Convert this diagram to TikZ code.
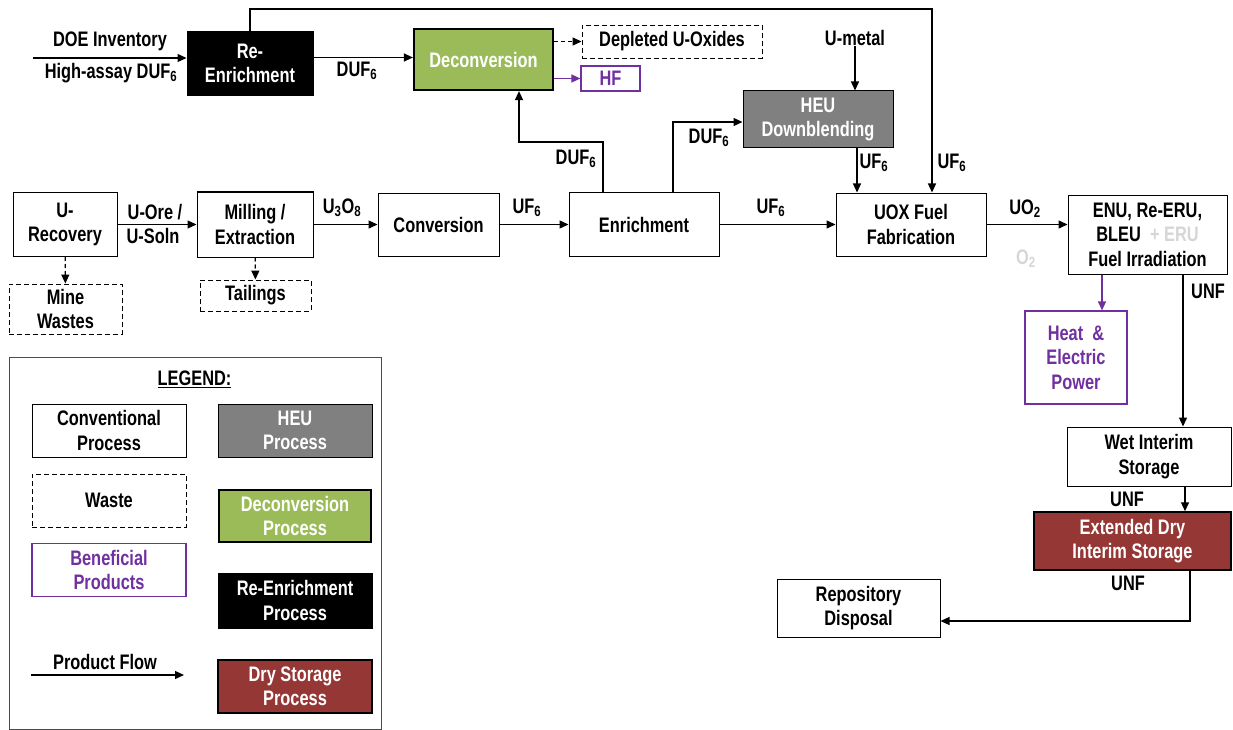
\documentclass[tikz,border=0pt]{standalone}
\usepackage{fontspec}
\setmainfont{Liberation Sans}[FakeStretch=0.78]
\usetikzlibrary{arrows.meta}
\definecolor{deconGreen}{HTML}{9BBB59}
\definecolor{heuGray}{HTML}{808080}
\definecolor{dryRed}{HTML}{953735}
\definecolor{benPurple}{HTML}{7030A0}
\definecolor{ghost}{HTML}{D6D6D6}
\newcommand{\lo}[1]{\textsubscript{#1}}
\begin{document}
\begin{tikzpicture}[x=1pt,y=-1pt,
    every node/.style={font=\fontsize{21}{24.5}\selectfont\bfseries,align=center,inner sep=0pt},
    procbox/.style={draw,line width=1pt,fill=white},
    wastebox/.style={draw,line width=0.9pt,dash pattern=on 5pt off 3pt},
    benefitbox/.style={draw=benPurple,line width=1.2pt,text=benPurple},
    heubox/.style={draw,fill=heuGray,text=white,line width=1pt},
    deconbox/.style={draw,fill=deconGreen,text=white,line width=2.2pt},
    reenrbox/.style={draw,fill=black,text=white,line width=1pt},
    drybox/.style={draw,fill=dryRed,text=white,line width=1.5pt},
    flow/.style={line width=1.3pt,-{Triangle[length=9pt,width=8pt]}},
    wasteflow/.style={flow,dash pattern=on 4pt off 3pt},
    benflow/.style={flow,draw=benPurple,fill=benPurple}]
  \useasboundingbox (0,0) rectangle (1233,730);

  % top row
  \node[reenrbox,minimum width=126pt,minimum height=64pt] (reenr) at (250,63.5) {Re-\\Enrichment};
  \node[deconbox,minimum width=139pt,minimum height=61pt] (decon) at (483.5,59.5) {Deconversion};
  \node[wastebox,minimum width=180pt,minimum height=33pt] (depl) at (672,41.5) {Depleted U-Oxides};
  \node[benefitbox,minimum width=59pt,minimum height=25pt] (hf) at (610.5,78.5) {HF};
  \node[heubox,minimum width=150pt,minimum height=57pt] (heu) at (818,119.5) {HEU\\Downblending};
  \node (umetal) at (855,38) {U-metal};
  \node (doe) at (110,41) {DOE Inventory};
  \node (haduf) at (111,73) {High-assay DUF\lo{6}};
  \coordinate (doein) at (33,58);

  % main row
  \node[procbox,minimum width=104pt,minimum height=64pt] (urec) at (65,224.5) {U-\\Recovery};
  \node[procbox,minimum width=116pt,minimum height=65pt] (mill) at (255,224.5) {Milling /\\Extraction};
  \node[procbox,minimum width=121pt,minimum height=63pt] (conv) at (438.5,224.5) {Conversion};
  \node[procbox,minimum width=150pt,minimum height=64pt] (enr) at (644,224.5) {Enrichment};
  \node[procbox,minimum width=150pt,minimum height=63pt] (uox) at (911,224.5) {UOX Fuel\\Fabrication};
  \node[procbox,minimum width=159pt,minimum height=79pt] (enu) at (1147.5,234.5)
    {ENU, Re-ERU,\\BLEU~~{\color{ghost}+ ERU}\\Fuel Irradiation};
  \node[wastebox,minimum width=113pt,minimum height=50pt] (mine) at (65.5,309) {Mine\\Wastes};
  \node[wastebox,minimum width=111pt,minimum height=31pt] (tail) at (255.5,295.5) {Tailings};

  % back end
  \node[benefitbox,minimum width=102pt,minimum height=93pt] (heat) at (1076,357.5) {Heat~~\&\\Electric\\Power};
  \node[procbox,minimum width=164pt,minimum height=59pt] (wet) at (1149,456.5) {Wet Interim\\Storage};
  \node[drybox,minimum width=197pt,minimum height=58pt] (ext) at (1132.5,541) {Extended Dry\\Interim Storage};
  \node[procbox,minimum width=163pt,minimum height=58pt] (repo) at (858.5,608) {Repository\\Disposal};

  % flow labels
  \node (lbore) at (155,212) {U-Ore /};
  \node (lbsoln) at (153,236) {U-Soln};
  \node (lbuoo) at (342,208) {U\lo{3}O\lo{8}};
  \node (lbufa) at (527,208) {UF\lo{6}};
  \node (lbufb) at (771,208) {UF\lo{6}};
  \node (lbufc) at (874,163) {UF\lo{6}};
  \node (lbufd) at (952,163) {UF\lo{6}};
  \node (lbdufa) at (357,71) {DUF\lo{6}};
  \node (lbdufb) at (576,159) {DUF\lo{6}};
  \node (lbdufc) at (709,138) {DUF\lo{6}};
  \node (lbuo) at (1025,209) {UO\lo{2}};
  \node[text=ghost] (lbox) at (1026,259) {O\lo{2}};
  \node (lbunfa) at (1208,291) {UNF};
  \node (lbunfb) at (1127,499) {UNF};
  \node (lbunfc) at (1128,583) {UNF};

  % connectors
  \draw[flow] (doein) -- (doein -| reenr.west);
  \draw[flow] ([yshift=6pt]reenr.east) -- ([yshift=6pt]reenr.east -| decon.west);
  \draw[wasteflow] (decon.east |- depl.west) -- (depl.west);
  \draw[benflow] (decon.east |- hf.west) -- (hf.west);
  \draw[flow] (reenr.north) -- ++(0,-22) -| ([xshift=21pt]uox.north);
  \draw[flow] (umetal) -- (umetal |- heu.north);
  \coordinate (heuout) at ([xshift=39pt]heu.south);
  \draw[flow] (heuout) -- (heuout |- uox.north);
  \draw[flow] (urec) -- (mill);
  \draw[flow] (mill) -- (conv);
  \draw[flow] (conv) -- (enr);
  \draw[flow] (enr) -- (uox);
  \draw[flow] (uox.east) -- (uox.east -| enu.west);
  \draw[flow] ([xshift=-41pt]enr.north) -- ++(0,-50) -| ([xshift=35.5pt]decon.south);
  \draw[flow] ([xshift=29pt]enr.north) |- ([yshift=-2.5pt]heu.west);
  \draw[wasteflow] (urec) -- (mine);
  \draw[wasteflow] (mill) -- (tail);
  \coordinate (enuheat) at ([xshift=26pt]heat.north);
  \draw[benflow] (enuheat |- enu.south) -- (enuheat);
  \coordinate (enuout) at ([xshift=35.5pt]enu.south);
  \draw[flow] (enuout) -- (enuout |- wet.north);
  \coordinate (wetout) at ([xshift=36pt]wet.south);
  \draw[flow] (wetout) -- (wetout |- ext.north);
  \draw[flow] ([xshift=57.5pt]ext.south) |- ([yshift=-13pt]repo.east);

  % legend
  \draw[line width=0.8pt,black!70] (9,357) rectangle (381,729);
  \node (legtitle) at (194.5,379) {\underline{LEGEND:}};
  \node[procbox,minimum width=154pt,minimum height=53pt] (legconv) at (109,430.5) {Conventional\\Process};
  \node[wastebox,minimum width=154pt,minimum height=53pt] (legwaste) at (109,500.5) {Waste};
  \node[benefitbox,minimum width=154pt,minimum height=53pt] (legben) at (109,570) {Beneficial\\Products};
  \node[heubox,minimum width=154pt,minimum height=53pt] (legheu) at (295,430.5) {HEU\\Process};
  \node[deconbox,minimum width=152pt,minimum height=52pt] (legdecon) at (295,516) {Deconversion\\Process};
  \node[reenrbox,minimum width=154pt,minimum height=55pt] (legreenr) at (295,600.5) {Re-Enrichment\\Process};
  \node[drybox,minimum width=154pt,minimum height=53pt] (legdry) at (295,686.5) {Dry Storage\\Process};
  \node (legflow) at (105,662) {Product Flow};
  \coordinate (flowa) at (31,675);
  \coordinate (flowb) at (184,675);
  \draw[flow] (flowa) -- (flowb);
\end{tikzpicture}
\end{document}
